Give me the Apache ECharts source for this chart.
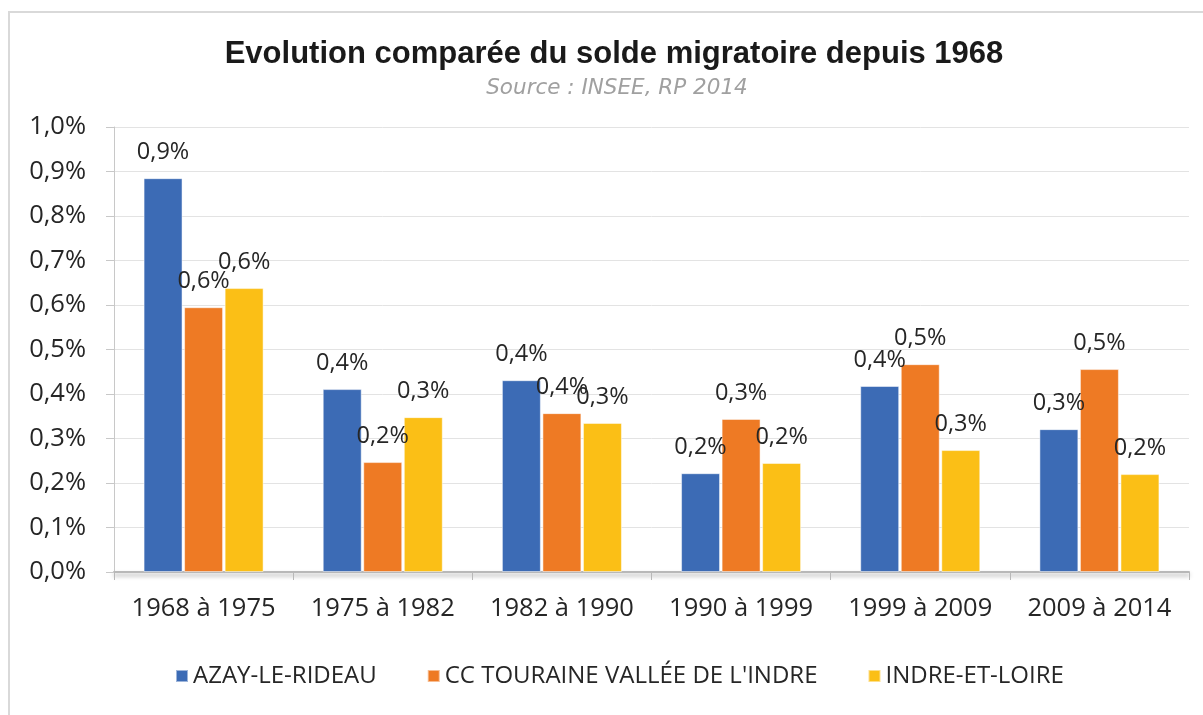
<!DOCTYPE html>
<html>
<head>
<meta charset="utf-8">
<script src="https://cdn.jsdelivr.net/npm/echarts@6/dist/echarts.min.js"></script>
<style>
html,body{margin:0;padding:0;background:#fff;}
#chart{width:1203px;height:715px;}
</style>
</head>
<body>
<div id="chart"></div>
<script>
const categories = ['1968 à 1975','1975 à 1982','1982 à 1990','1990 à 1999','1999 à 2009','2009 à 2014'];
const seriesNames = ['AZAY-LE-RIDEAU', "CC TOURAINE VALLÉE DE L'INDRE", 'INDRE-ET-LOIRE'];
const azay = [0.885, 0.411, 0.431, 0.222, 0.418, 0.321];
const ccTouraine = [0.595, 0.247, 0.357, 0.344, 0.467, 0.456];
const indreEtLoire = [0.638, 0.348, 0.335, 0.245, 0.274, 0.220];
const colors = ['#3c6bb5', '#ee7a24', '#fbbf16'];

const fmt = v => v.toFixed(1).replace('.', ',') + '%';
const FONT = '"Open Sans", "Noto Sans", sans-serif';

const chart = echarts.init(document.getElementById('chart'), null, {renderer: 'canvas'});

function mkSeries(name, data, color) {
  return {
    name: name,
    type: 'bar',
    data: data,
    barGap: '4%',
    barCategoryGap: '33%',
    itemStyle: {color: color, borderColor: 'rgba(255,255,255,0.5)', borderWidth: 1},
    label: {
      show: true,
      position: 'top',
      distance: 14,
      formatter: p => fmt(p.value),
      fontFamily: FONT,
      fontSize: 23.5,
      color: '#262626'
    }
  };
}

chart.setOption({
  animation: false,
  color: colors,
  graphic: [{
    type: 'rect',
    z: -10,
    shape: {x: 9, y: 12, width: 1300, height: 800},
    style: {fill: 'none', stroke: '#d9d9d9', lineWidth: 2}
  }],
  title: [{
    text: 'Evolution comparée du solde migratoire depuis 1968',
    left: 609,
    top: 34,
    textAlign: 'center',
    textStyle: {fontFamily: '"Liberation Sans", Arial, sans-serif', fontWeight: 'bold', fontSize: 31, color: '#1a1a1a'}
  }, {
    text: 'Source : INSEE, RP 2014',
    left: 612,
    top: 72,
    textAlign: 'center',
    textStyle: {fontFamily: '"DejaVu Sans", sans-serif', fontStyle: 'italic', fontWeight: 'normal', fontSize: 21.5, color: '#a0a0a0'}
  }],
  legend: {
    data: seriesNames,
    left: 170,
    top: 659,
    itemWidth: 12,
    itemHeight: 12,
    itemGap: 50,
    icon: 'rect',
    textStyle: {fontFamily: FONT, fontSize: 24, color: '#262626'}
  },
  grid: {left: 114, right: 14, top: 127, bottom: 143, containLabel: false},
  xAxis: {
    type: 'category',
    data: categories,
    axisLine: {show: true, lineStyle: {color: '#b8b8b8', width: 2, shadowColor: 'rgba(0,0,0,0.35)', shadowBlur: 4, shadowOffsetY: 3}},
    axisTick: {show: true, interval: 0, length: 8, lineStyle: {color: '#b8b8b8'}},
    axisLabel: {interval: 0, fontFamily: FONT, fontSize: 25.5, color: '#262626', margin: 24}
  },
  yAxis: {
    type: 'value',
    min: 0,
    max: 1,
    interval: 0.1,
    axisLine: {show: true, lineStyle: {color: '#c8c8c8', width: 1}},
    axisTick: {show: true, length: 8, lineStyle: {color: '#c8c8c8'}},
    splitLine: {show: true, lineStyle: {color: '#e3e3e3', width: 1}},
    axisLabel: {fontFamily: FONT, fontSize: 25.5, color: '#262626', margin: 28, formatter: v => fmt(v)}
  },
  series: [
    mkSeries(seriesNames[0], azay, colors[0]),
    mkSeries(seriesNames[1], ccTouraine, colors[1]),
    mkSeries(seriesNames[2], indreEtLoire, colors[2])
  ]
});
</script>
</body>
</html>
